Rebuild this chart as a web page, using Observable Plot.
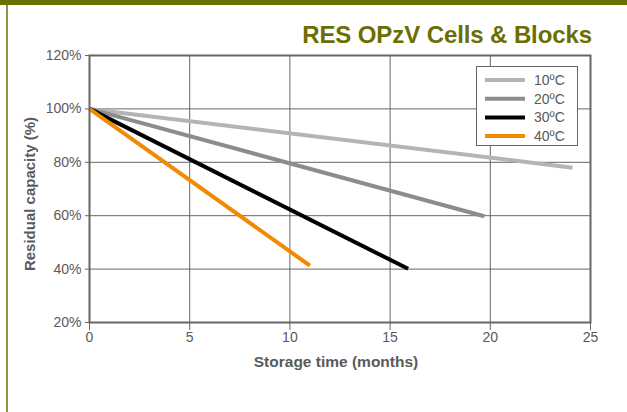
<!DOCTYPE html>
<html>
<head>
<meta charset="utf-8">
<script src="https://cdn.jsdelivr.net/npm/d3@7"></script>
<script src="https://cdn.jsdelivr.net/npm/@observablehq/plot@0.6"></script>
<style>
  html, body { margin: 0; padding: 0; background: #fff; }
  #wrap { position: relative; width: 627px; height: 412px; overflow: hidden; background: #fff;
          font-family: "Liberation Sans", Arial, Helvetica, sans-serif; }
  #topbar { position: absolute; left: 0; top: 0; width: 627px; height: 5px; background: #6b6f00; }
  #leftbar { position: absolute; left: 6px; top: 5px; width: 2px; height: 407px; background: #8b963e; }
  #title { position: absolute; right: 35px; top: 21px; font-weight: bold; font-size: 24px;
           color: #6b6e00; white-space: nowrap; letter-spacing: -0.1px; }
  #chart { position: absolute; left: 0; top: 0; }
</style>
</head>
<body>
<div id="wrap">
  <div id="chart"></div>
  <div id="topbar"></div>
  <div id="leftbar"></div>
  <div id="title">RES OPzV Cells &amp; Blocks</div>
</div>
<script>
// ---- data ----
const series = ["10ºC", "20ºC", "30ºC", "40ºC"];
const colors = ["#b4b4b4", "#8c8c8c", "#000000", "#f28a00"];
const months10 = [0, 24.1];
const capacity10 = [100, 78];
const months20 = [0, 19.7];
const capacity20 = [100, 59.8];
const months30 = [0, 15.9];
const capacity30 = [100, 40.1];
const months40 = [0, 11.0];
const capacity40 = [100, 41.3];
const xTicks = [0, 5, 10, 15, 20, 25];
const yTicks = [20, 40, 60, 80, 100, 120];
const xLabel = "Storage time (months)";
const yLabel = "Residual capacity (%)";

const allMonths = [months10, months20, months30, months40];
const allCaps = [capacity10, capacity20, capacity30, capacity40];
const data = [];
series.forEach((s, i) => {
  allMonths[i].forEach((m, j) => data.push({series: s, month: m, cap: allCaps[i][j]}));
});

const W = 627, H = 412;
const mL = 89, mR = 37, mT = 55, mB = 90;
const grey = "#666";
const textGrey = "#5a5a5a";

const plot = Plot.plot({
  width: W,
  height: H,
  marginLeft: mL,
  marginRight: mR,
  marginTop: mT,
  marginBottom: mB,
  style: {fontFamily: '"Liberation Sans", Arial, sans-serif', fontSize: "14px", color: textGrey, background: "transparent"},
  x: {domain: [0, 25], ticks: xTicks},
  y: {domain: [20, 120], ticks: yTicks},
  color: {domain: series, range: colors},
  marks: [
    Plot.gridX(xTicks.slice(1, -1), {stroke: grey, strokeOpacity: 1, strokeWidth: 1}),
    Plot.gridY(yTicks.slice(1, -1), {stroke: grey, strokeOpacity: 1, strokeWidth: 1}),
    Plot.axisX({ticks: xTicks, tickSize: 8, tickPadding: 2, label: null, stroke: grey,
                fill: textGrey, fontSize: 14}),
    Plot.axisY({ticks: yTicks, tickSize: 4, tickPadding: 4, label: null, stroke: grey,
                fill: textGrey, fontSize: 14, tickFormat: d => d + "%"}),
    Plot.line(data, {x: "month", y: "cap", z: "series", stroke: "series", strokeWidth: 4,
                     strokeLinecap: "butt", strokeLinejoin: "miter"}),
    Plot.frame({stroke: grey, strokeWidth: 2}),
    Plot.text([xLabel], {frameAnchor: "bottom", dy: 40, dx: -4, textAnchor: "middle", lineAnchor: "middle",
                         fontWeight: "bold", fontSize: 15.5, fill: textGrey, text: d => d}),
    Plot.text([yLabel], {frameAnchor: "left", dx: -59, dy: 5, rotate: -90, textAnchor: "middle", lineAnchor: "middle",
                         fontWeight: "bold", fontSize: 15, fill: textGrey, text: d => d})
  ]
});

// ---- legend drawn into the same svg ----
const svg = d3.select(plot);
const lg = svg.append("g");
const bx = 476.5, by = 66.5, bw = 101, bh = 79;
lg.append("rect").attr("x", bx).attr("y", by).attr("width", bw).attr("height", bh)
  .attr("fill", "#fff").attr("stroke", grey).attr("stroke-width", 1);
series.forEach((s, i) => {
  const cy = 80 + i * 18.7;
  lg.append("line").attr("x1", 485).attr("x2", 525).attr("y1", cy).attr("y2", cy)
    .attr("stroke", colors[i]).attr("stroke-width", 4);
  lg.append("text").attr("x", 534).attr("y", cy).attr("dy", "0.36em")
    .attr("text-anchor", "start")
    .attr("fill", textGrey).attr("font-size", 14).text(s);
});

document.getElementById("chart").appendChild(plot);
</script>
</body>
</html>
